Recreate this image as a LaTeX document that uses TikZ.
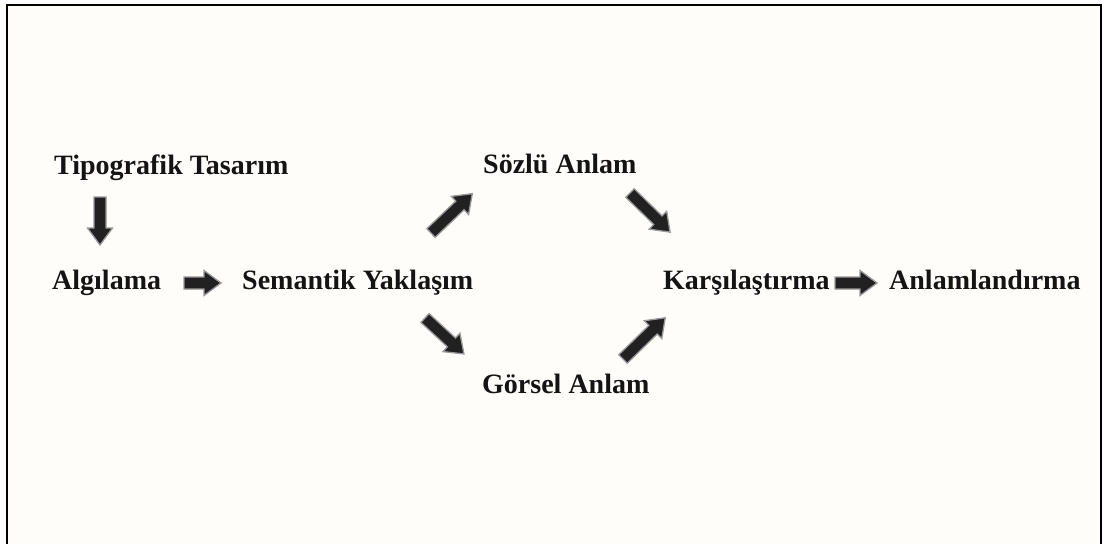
\documentclass[tikz,border=0pt]{standalone}
\usepackage{fontspec}
\setmainfont{Liberation Serif}
\begin{document}
\begin{tikzpicture}[x=1pt,y=-1pt,
  lbl/.style={anchor=base west,inner sep=0pt,font=\fontsize{28}{30}\selectfont\bfseries,text=black!92},
  arrowbody/.style={fill=black!87,draw=black!40,line width=1.3pt,line join=miter},
  blockarrow/.pic={\path[arrowbody] (0,-6) -- ({#1-17},-6) -- ({#1-17},-12.5) -- (#1,0) -- ({#1-17},12.5) -- ({#1-17},6) -- (0,6) -- cycle;}]
\useasboundingbox (0,0) rectangle (1105,544);
\fill[white] (0,0) rectangle (1105,544);
\fill[fill={rgb,255:red,254;green,253;blue,249}] (7,5) rectangle (1101,544);
\draw[line width=1.6pt] (7,544) -- (7,5) -- (1101,5) -- (1101,544);
\node[lbl] (tip) at (54,174) {Tipografik Tasarım};
\node[lbl] (alg) at (52,289) {Algılama};
\node[lbl] (sem) at (242,289) {Semantik Yaklaşım};
\node[lbl] (soz) at (483,173) {Sözlü Anlam};
\node[lbl] (gor) at (482,393) {Görsel Anlam};
\node[lbl] (kar) at (663,289) {Karşılaştırma};
\node[lbl] (anl) at (889,289) {Anlamlandırma};
\pic[rotate=-90] at (100,197) {blockarrow=48};
\pic at (184,283) {blockarrow=37};
\pic[rotate=43.6] at (431,233) {blockarrow=57};
\pic[rotate=-42.7] at (425,318) {blockarrow=53};
\pic[rotate=-44.3] at (630,193) {blockarrow=56};
\pic[rotate=44.3] at (623,359) {blockarrow=59};
\pic at (835,283) {blockarrow=42};
\end{tikzpicture}
\end{document}
